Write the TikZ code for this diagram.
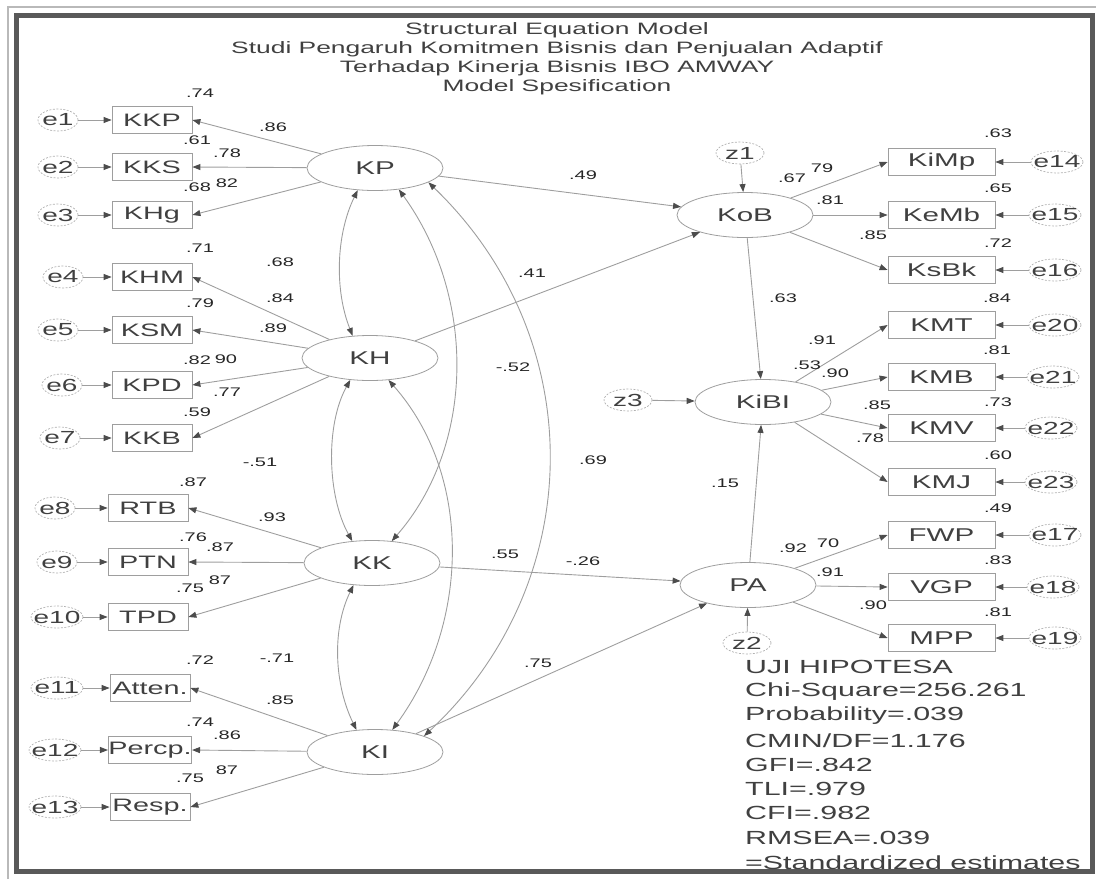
\documentclass[tikz,border=0pt]{standalone}
\usepackage{fontspec}
\setmainfont{Liberation Sans}[FakeStretch=1.6]
\usetikzlibrary{arrows.meta,shapes.geometric}
\definecolor{txt}{gray}{0.25}
\definecolor{ln}{gray}{0.62}
\definecolor{tipc}{gray}{0.3}
\begin{document}
\begin{tikzpicture}[x=1pt,y=-1pt,
  >={Triangle[length=8pt,width=6pt,color=tipc]},
  every node/.style={text=txt, inner sep=0pt},
  ttl/.style={font=\fontsize{16.5}{18}\selectfont},
  obs/.style={draw=ln, line width=0.8pt, rectangle, minimum width=80pt, minimum height=27pt, font=\fontsize{18}{20}\selectfont},
  robs/.style={obs, minimum width=107pt, font=\fontsize{18.5}{20}\selectfont},
  lat/.style={draw=ln, line width=0.8pt, ellipse, minimum width=136pt, minimum height=45pt, font=\fontsize{18.5}{20}\selectfont},
  err/.style={draw=ln!80, dash pattern=on 2pt off 1.5pt, line width=0.7pt, ellipse, minimum width=40pt, minimum height=22pt, font=\fontsize{17.5}{19}\selectfont},
  errw/.style={err, minimum width=52pt},
  coef/.style={font=\fontsize{12.5}{14}\selectfont, text=black!85},
  reg/.style={draw=ln, line width=0.9pt, ->},
  cov/.style={draw=ln, line width=0.9pt, <->},
  stat/.style={anchor=west, font=\fontsize{19}{21}\selectfont},
]
\useasboundingbox (0,0) rectangle (1096,879);
% frame
\draw[gray!55, line width=1.3pt] (8,879) -- (8,7) -- (1096,7);
\draw[black!65, line width=5.5pt] (16.5,15.5) rectangle (1092.5,871.5);
% title
\node[ttl] (t1) at (557,30) {Structural Equation Model};
\node[ttl] (t2) at (557,49) {Studi Pengaruh Komitmen Bisnis dan Penjualan Adaptif};
\node[ttl] (t3) at (557,68) {Terhadap Kinerja Bisnis IBO AMWAY};
\node[ttl] (t4) at (557,87) {Model Spesification};
% latent
\node[lat] (KP) at (375,168) {KP};
\node[lat] (KH) at (370,358) {KH};
\node[lat] (KK) at (372,563) {KK};
\node[lat] (KI) at (375,752) {KI};
\node[lat] (KoB) at (745,215) {KoB};
\node[lat] (KiBI) at (763,402) {KiBI};
\node[lat] (PA) at (748,585) {PA};
% left indicators
\node[obs] (KKP) at (152,120) {KKP};
\node[obs] (KKS) at (152,167) {KKS};
\node[obs] (KHg) at (152,215) {KHg};
\node[obs] (KHM) at (152,277) {KHM};
\node[obs] (KSM) at (152,330) {KSM};
\node[obs] (KPD) at (152,385) {KPD};
\node[obs] (KKB) at (152,438) {KKB};
\node[obs] (RTB) at (148,508) {RTB};
\node[obs] (PTN) at (148,562) {PTN};
\node[obs] (TPD) at (148,617) {TPD};
\node[obs] (Atten) at (150,688) {Atten.};
\node[obs] (Percp) at (150,750) {Percp.};
\node[obs] (Resp) at (150,807) {Resp.};
% right indicators
\node[robs] (KiMp) at (941.5,162) {KiMp};
\node[robs] (KeMb) at (941.5,215) {KeMb};
\node[robs] (KsBk) at (941.5,270) {KsBk};
\node[robs] (KMT) at (941.5,325) {KMT};
\node[robs] (KMB) at (941.5,377) {KMB};
\node[robs] (KMV) at (941.5,428) {KMV};
\node[robs] (KMJ) at (941.5,482) {KMJ};
\node[robs] (FWP) at (941.5,535) {FWP};
\node[robs] (VGP) at (941.5,587) {VGP};
\node[robs] (MPP) at (941.5,638) {MPP};
% errors left
\node[err] (e1) at (58,120) {\makebox[0pt]{e1}};
\node[err] (e2) at (58,167) {\makebox[0pt]{e2}};
\node[err] (e3) at (58,215) {\makebox[0pt]{e3}};
\node[err] (e4) at (63,277) {\makebox[0pt]{e4}};
\node[err] (e5) at (58,330) {\makebox[0pt]{e5}};
\node[err] (e6) at (62,385) {\makebox[0pt]{e6}};
\node[err] (e7) at (60,438) {\makebox[0pt]{e7}};
\node[err] (e8) at (55,508) {\makebox[0pt]{e8}};
\node[err] (e9) at (57,562) {\makebox[0pt]{e9}};
\node[errw] (e10) at (57,617) {\makebox[0pt]{e10}};
\node[errw] (e11) at (57,688) {\makebox[0pt]{e11}};
\node[errw] (e12) at (55,750) {\makebox[0pt]{e12}};
\node[errw] (e13) at (55,807) {\makebox[0pt]{e13}};
% errors right
\node[errw] (e14) at (1057,162) {\makebox[0pt]{e14}};
\node[errw] (e15) at (1055,215) {\makebox[0pt]{e15}};
\node[errw] (e16) at (1055,270) {\makebox[0pt]{e16}};
\node[errw] (e20) at (1055,325) {\makebox[0pt]{e20}};
\node[errw] (e21) at (1053,377) {\makebox[0pt]{e21}};
\node[errw] (e22) at (1051,428) {\makebox[0pt]{e22}};
\node[errw] (e23) at (1051,482) {\makebox[0pt]{e23}};
\node[errw] (e17) at (1055,535) {\makebox[0pt]{e17}};
\node[errw] (e18) at (1053,587) {\makebox[0pt]{e18}};
\node[errw] (e19) at (1055,638) {\makebox[0pt]{e19}};
% disturbances
\node[err, minimum width=48pt] (z1) at (740,153) {\makebox[0pt]{z1}};
\node[err, minimum width=48pt] (z3) at (628,400) {\makebox[0pt]{z3}};
\node[err, minimum width=48pt] (z2) at (747,643) {\makebox[0pt]{z2}};
% error arrows
\foreach \e/\b in {e1/KKP,e2/KKS,e3/KHg,e4/KHM,e5/KSM,e6/KPD,e7/KKB,e8/RTB,e9/PTN,e10/TPD,e11/Atten,e12/Percp,e13/Resp,
  e14/KiMp,e15/KeMb,e16/KsBk,e20/KMT,e21/KMB,e22/KMV,e23/KMJ,e17/FWP,e18/VGP,e19/MPP}
  \draw[reg] (\e) -- (\b);
% loadings
\foreach \b in {KKP,KKS,KHg} \draw[reg] (KP) -- (\b.east);
\foreach \b in {KHM,KSM,KPD,KKB} \draw[reg] (KH) -- (\b.east);
\foreach \b in {RTB,PTN,TPD} \draw[reg] (KK) -- (\b.east);
\foreach \b in {Atten,Percp,Resp} \draw[reg] (KI) -- (\b.east);
\foreach \b in {KiMp,KeMb,KsBk} \draw[reg] (KoB) -- (\b.west);
\foreach \b in {KMT,KMB,KMV,KMJ} \draw[reg] (KiBI) -- (\b.west);
\foreach \b in {FWP,VGP,MPP} \draw[reg] (PA) -- (\b.west);
% structural
\draw[reg] (KP) -- (KoB);
\draw[reg] (KH) -- (KoB);
\draw[reg] (KoB) -- (KiBI);
\draw[reg] (PA) -- (KiBI);
\draw[reg] (KK) -- (PA);
\draw[reg] (KI) -- (PA);
\draw[reg] (z1) -- (KoB);
\draw[reg] (z3) -- (KiBI);
\draw[reg] (z2) -- (PA);
% covariances
\draw[cov] (KP.232) .. controls +(-22,45) and +(-18,-45) .. (KH.128);
\draw[cov] (KH.228) .. controls +(-25,45) and +(-25,-45) .. (KK.132);
\draw[cov] (KK.230) .. controls +(-22,45) and +(-22,-45) .. (KI.130);
\draw[cov] (KP.318) .. controls +(78,108) and +(83,-95) .. (KK.48);
\draw[cov] (KH.310) .. controls +(84,95) and +(78,-107) .. (KI.52);
\draw[cov] (KP.345) .. controls +(163,157) and +(164,-153) .. (KI.18);
% coefficients
\foreach \n/\x/\y/\t in {
  1/200/93/.74, 2/273/127/.86, 3/197/140/.61, 4/227/153/.78, 5/197/187/.68, 6/227/183/82,
  7/200/248/.71, 8/280/262/.68, 9/280/298/.84, 10/200/303/.79, 11/273/328/.89, 12/197/360/.82,
  13/226/359/90, 14/227/392/.77, 15/197/412/.59,
  16/260/462/-.51, 17/193/482/.87, 18/272/517/.93, 19/193/537/.76, 20/220/547/.87, 21/190/588/.75, 22/220/580/87,
  23/277/658/-.71, 24/200/660/.72, 25/280/700/.85, 26/200/722/.74, 27/227/735/.86, 28/190/778/.75, 29/227/770/87,
  30/583/175/.49, 31/532/273/.41, 32/513/367/-.52, 33/593/460/.69, 34/505/554/.55, 35/583/561/-.26,
  36/538/663/.75, 37/725/483/.15, 38/783/298/.63,
  39/792/178/.67, 40/822/168/79, 41/830/200/.81, 42/873/235/.85,
  43/998/133/.63, 44/998/188/.65, 45/998/243/.72, 46/997/298/.84, 47/997/350/.81,
  48/822/340/.91, 49/807/365/.53, 50/835/373/.90, 51/998/402/.73, 52/877/405/.85, 53/870/438/.78,
  54/998/455/.60, 55/998/508/.49, 56/793/548/.92, 57/828/543/70, 58/998/560/.83, 59/830/572/.91,
  60/873/605/.90, 61/998/612/.81}
  \node[coef] (c\n) at (\x,\y) {\t};
% fit statistics
\node[stat] (s1) at (745,667) {UJI HIPOTESA};
\node[stat] (s2) at (745,692) {Chi-Square=256.261};
\node[stat] (s3) at (745,716) {Probability=.039};
\node[stat] (s4) at (745,741) {CMIN/DF=1.176};
\node[stat] (s5) at (745,765) {GFI=.842};
\node[stat] (s6) at (745,789) {TLI=.979};
\node[stat] (s7) at (745,813) {CFI=.982};
\node[stat] (s8) at (745,838) {RMSEA=.039};
\node[stat] (s9) at (745,863) {=Standardized estimates};
\end{tikzpicture}
\end{document}
